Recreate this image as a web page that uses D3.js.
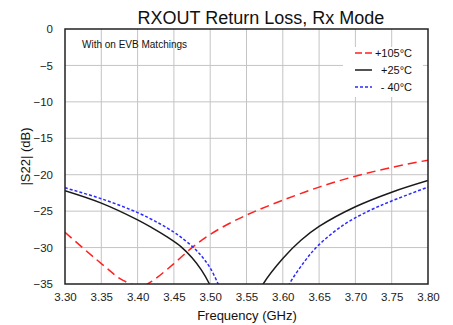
<!DOCTYPE html>
<html>
<head>
<meta charset="utf-8">
<script src="https://cdn.jsdelivr.net/npm/d3@7"></script>
<style>
  body { margin: 0; background: #fff; }
  text { font-family: "Liberation Sans", Arial, sans-serif; }
</style>
</head>
<body>
<div id="container"></div>
<script>
const xTicks = [3.30, 3.35, 3.40, 3.45, 3.50, 3.55, 3.60, 3.65, 3.70, 3.75, 3.80];
const yTicks = [0, -5, -10, -15, -20, -25, -30, -35];

// values (GHz, dB); points below -35 get clipped
const red105 = [
  [3.30, -27.9], [3.35, -32.2], [3.38, -34.5], [3.405, -35.3], [3.42, -34.6],
  [3.45, -32.2], [3.475, -30.0], [3.50, -28.2], [3.53, -26.5], [3.56, -25.1],
  [3.60, -23.5], [3.65, -21.7], [3.70, -20.2], [3.75, -19.0], [3.80, -18.0]
];
const black25L = [
  [3.30, -22.2], [3.35, -23.9], [3.40, -26.2], [3.42, -27.3], [3.44, -28.5],
  [3.46, -29.9], [3.475, -31.4], [3.488, -33.1], [3.499, -35.0], [3.506, -36.5]
];
const black25R = [
  [3.566, -36.5], [3.573, -35.0], [3.60, -31.5], [3.625, -29.0], [3.65, -27.1],
  [3.70, -24.4], [3.75, -22.4], [3.80, -20.8]
];
const blue40L = [
  [3.30, -21.8], [3.35, -23.3], [3.40, -25.2], [3.43, -26.7], [3.45, -27.9],
  [3.46, -28.6], [3.477, -30.0], [3.49, -31.4], [3.50, -32.8], [3.511, -35.0],
  [3.518, -36.6]
];
const blue40R = [
  [3.602, -36.5], [3.609, -35.0], [3.63, -31.9], [3.65, -29.6], [3.685, -26.8],
  [3.72, -24.9], [3.75, -23.6], [3.80, -21.7]
];

const width = 453;
const height = 325;
const margin = { top: 29, right: 25, bottom: 41, left: 65 };

const svg = d3.select("#container")
  .append("svg")
  .attr("width", width)
  .attr("height", height);

const x = d3.scaleLinear().domain([3.3, 3.8]).range([margin.left, width - margin.right]);
const y = d3.scaleLinear().domain([-35, 0]).range([height - margin.bottom, margin.top]);

// grid
svg.append("g")
  .selectAll("line.v")
  .data(xTicks.slice(1, -1))
  .enter().append("line")
  .attr("x1", d => x(d)).attr("x2", d => x(d))
  .attr("y1", y(0)).attr("y2", y(-35))
  .attr("stroke", "#c4c4c4").attr("stroke-width", 1);

svg.append("g")
  .selectAll("line.h")
  .data(yTicks.slice(1, -1))
  .enter().append("line")
  .attr("x1", x(3.3)).attr("x2", x(3.8))
  .attr("y1", d => y(d)).attr("y2", d => y(d))
  .attr("stroke", "#c4c4c4").attr("stroke-width", 1);

// tick labels
svg.append("g")
  .attr("transform", `translate(0, ${y(-35)})`)
  .call(d3.axisBottom(x).tickValues(xTicks).tickFormat(d3.format(".2f")).tickSize(0).tickPadding(9))
  .call(g => g.select(".domain").remove())
  .call(g => g.selectAll("text").attr("font-size", "11.5px").attr("fill", "#222")
    .style("font-family", "'Liberation Sans', Arial, sans-serif"));

svg.append("g")
  .attr("transform", `translate(${x(3.3)}, 0)`)
  .call(d3.axisLeft(y).tickValues(yTicks).tickFormat(d3.format("d")).tickSize(0).tickPadding(12))
  .call(g => g.select(".domain").remove())
  .call(g => g.selectAll("text").attr("font-size", "11.5px").attr("fill", "#222")
    .style("font-family", "'Liberation Sans', Arial, sans-serif"));

// curves
svg.append("clipPath").attr("id", "plotclip")
  .append("rect")
  .attr("x", x(3.3)).attr("y", y(0))
  .attr("width", x(3.8) - x(3.3)).attr("height", y(-35) - y(0));

const line = d3.line()
  .x(d => x(d[0]))
  .y(d => y(d[1]))
  .curve(d3.curveCatmullRom);

const series = [
  { data: red105, color: "#ff2020", dash: "9,5", w: 1.5 },
  { data: black25L, color: "#1a1a1a", dash: null, w: 1.5 },
  { data: black25R, color: "#1a1a1a", dash: null, w: 1.5 },
  { data: blue40L, color: "#2a2aff", dash: "3,2", w: 1.5 },
  { data: blue40R, color: "#2a2aff", dash: "3,2", w: 1.5 }
];

const curves = svg.append("g").attr("clip-path", "url(#plotclip)");
series.forEach(s => {
  curves.append("path")
    .datum(s.data)
    .attr("d", line)
    .attr("fill", "none")
    .attr("stroke", s.color)
    .attr("stroke-width", s.w)
    .attr("stroke-dasharray", s.dash);
});

// frame
svg.append("rect")
  .attr("x", x(3.3)).attr("y", y(0))
  .attr("width", x(3.8) - x(3.3)).attr("height", y(-35) - y(0))
  .attr("fill", "none").attr("stroke", "#222").attr("stroke-width", 1.5);

// legend
const legendData = [
  { label: "+105°C", color: "#ff2020", dash: "7,3" },
  { label: "+25°C", color: "#1a1a1a", dash: null },
  { label: "- 40°C", color: "#2a2aff", dash: "3,2" }
];
svg.append("rect")
  .attr("x", 343).attr("y", 47).attr("width", 80).attr("height", 50)
  .attr("fill", "#fff");

const legend = svg.append("g").attr("transform", "translate(355, 53)");
legend.selectAll("g")
  .data(legendData)
  .enter().append("g")
  .attr("transform", (d, i) => `translate(0, ${i * 17})`)
  .each(function (d) {
    const g = d3.select(this);
    g.append("line")
      .attr("x1", 0).attr("x2", 17).attr("y1", 0).attr("y2", 0)
      .attr("stroke", d.color).attr("stroke-width", 1.5)
      .attr("stroke-dasharray", d.dash);
    g.append("text")
      .attr("x", 57).attr("y", 4)
      .attr("text-anchor", "end")
      .attr("font-size", "11px")
      .attr("fill", "#111")
      .text(d.label);
  });

// texts
svg.append("text")
  .attr("x", 261).attr("y", 24)
  .attr("text-anchor", "middle")
  .attr("font-size", "18px")
  .attr("fill", "#111")
  .text("RXOUT Return Loss, Rx Mode");

svg.append("text")
  .attr("x", 82).attr("y", 48)
  .attr("font-size", "10px")
  .attr("fill", "#111")
  .text("With on EVB Matchings");

svg.append("text")
  .attr("x", 247).attr("y", 320)
  .attr("text-anchor", "middle")
  .attr("font-size", "13px")
  .attr("fill", "#111")
  .text("Frequency (GHz)");

svg.append("text")
  .attr("transform", `translate(30, ${(y(0) + y(-35)) / 2}) rotate(-90)`)
  .attr("text-anchor", "middle")
  .attr("font-size", "13px")
  .attr("fill", "#111")
  .text("|S22| (dB)");
</script>
</body>
</html>
